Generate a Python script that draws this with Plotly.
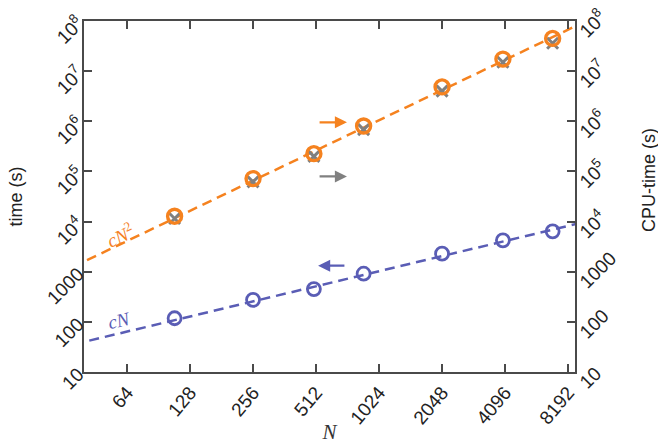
import plotly.graph_objects as go

# data
N = [108, 256, 500, 864, 2048, 4000, 6912]
time_s = [118, 275, 451, 912, 2290, 4230, 6400]                       # blue circles (left axis)
cpu_time_circle = [12800, 72000, 226000, 805000, 4.85e6, 1.74e7, 4.5e7]  # orange circles (right axis)
cpu_time_cross = [11500, 62000, 200000, 680000, 4.0e6, 1.5e7, 3.6e7]     # gray crosses (right axis)

fit_N = [30, 10000]
fit_cN = [30, 10000]
fit_cN2 = [900, 1.0e8]

x_ticks = [64, 128, 256, 512, 1024, 2048, 4096, 8192]
y_ticks = [10, 100, 1000, 1e4, 1e5, 1e6, 1e7, 1e8]
y_ticktext = ["10", "100", "1000", "10<sup>4</sup>", "10<sup>5</sup>",
              "10<sup>6</sup>", "10<sup>7</sup>", "10<sup>8</sup>"]

ORANGE = "#F5821F"
BLUE = "#5A5DB5"
GRAY = "#808080"
AX = "#4a4a4a"
FONT = "Liberation Sans, Arial, sans-serif"

fig = go.Figure()

fig.add_trace(go.Scatter(x=fit_N, y=fit_cN, mode="lines",
                         line=dict(color=BLUE, width=2.5, dash="10px,6px"),
                         hoverinfo="skip"))
fig.add_trace(go.Scatter(x=fit_N, y=fit_cN2, mode="lines", yaxis="y2",
                         line=dict(color=ORANGE, width=2.5, dash="10px,6px"),
                         hoverinfo="skip"))
fig.add_trace(go.Scatter(x=N, y=time_s, mode="markers",
                         marker=dict(symbol="circle-open", size=13, color=BLUE,
                                     line=dict(width=2.8, color=BLUE))))
fig.add_trace(go.Scatter(x=N, y=cpu_time_cross, mode="markers", yaxis="y2",
                         marker=dict(symbol="x-thin-open", size=11, color=GRAY,
                                     line=dict(width=3, color=GRAY))))
fig.add_trace(go.Scatter(x=N, y=cpu_time_circle, mode="markers", yaxis="y2",
                         marker=dict(symbol="circle-open", size=14, color=ORANGE,
                                     line=dict(width=3.4, color=ORANGE))))

axis_common = dict(
    showgrid=False, zeroline=False, showline=True, linecolor=AX, linewidth=2,
    ticks="inside", ticklen=8, tickwidth=2, tickcolor=AX, automargin=False,
    ticklabeloverflow="allow",
    tickfont=dict(family=FONT, size=19, color="#222"),
)

fig.update_layout(
    width=658, height=444,
    margin=dict(l=84, r=83, t=21, b=72),
    paper_bgcolor="white", plot_bgcolor="white",
    showlegend=False,
    xaxis=dict(type="log", range=[1.6006, 3.9465], tickvals=x_ticks,
               ticktext=[str(v) for v in x_ticks], tickangle=-50, mirror="ticks",
               title=dict(text="<i>N</i>", font=dict(family="Liberation Serif, serif", size=21, color="#333"),
                          standoff=0),
               **axis_common),
    yaxis=dict(type="log", range=[1, 8], tickvals=y_ticks, ticktext=y_ticktext,
               tickangle=-45,
               title=dict(text="time (s)", font=dict(family=FONT, size=18, color="#222"), standoff=16),
               **axis_common),
    yaxis2=dict(type="log", range=[1, 8], tickvals=y_ticks, ticktext=y_ticktext,
                tickangle=-45, overlaying="y", side="right", ticklabelshift=14,
                **axis_common),
)

# right axis title placed as a rotated annotation
fig.add_annotation(x=1.1507, y=0.547, xref="paper", yref="paper", text="CPU-time (s)",
                   showarrow=False, textangle=-90, xanchor="center", yanchor="middle",
                   font=dict(family=FONT, size=18, color="#222"))

# arrows indicating which axis each series belongs to
arrows = [
    dict(x=2.857, y=5.98, ax=2.719, ay=5.98, color=ORANGE, yref="y2"),
    dict(x=2.857, y=4.90, ax=2.719, ay=4.90, color=GRAY, yref="y2"),
    dict(x=2.719, y=3.12, ax=2.852, ay=3.12, color=BLUE, yref="y"),
]
for a in arrows:
    fig.add_annotation(x=a["x"], y=a["y"], ax=a["ax"], ay=a["ay"], xref="x", yref=a["yref"],
                       axref="x", ayref=a["yref"], text="", showarrow=True,
                       arrowhead=2, arrowsize=1.1, arrowwidth=2.2, arrowcolor=a["color"])

fig.add_annotation(x=1.772, y=3.74, xref="x", yref="y", text="<i>cN</i><sup>2</sup>",
                   showarrow=False, textangle=-25,
                   font=dict(family="Liberation Serif, serif", size=19, color=ORANGE))
fig.add_annotation(x=1.768, y=2.02, xref="x", yref="y", text="<i>cN</i>",
                   showarrow=False, textangle=-13,
                   font=dict(family="Liberation Serif, serif", size=19, color=BLUE))

fig.write_html("out.html")
